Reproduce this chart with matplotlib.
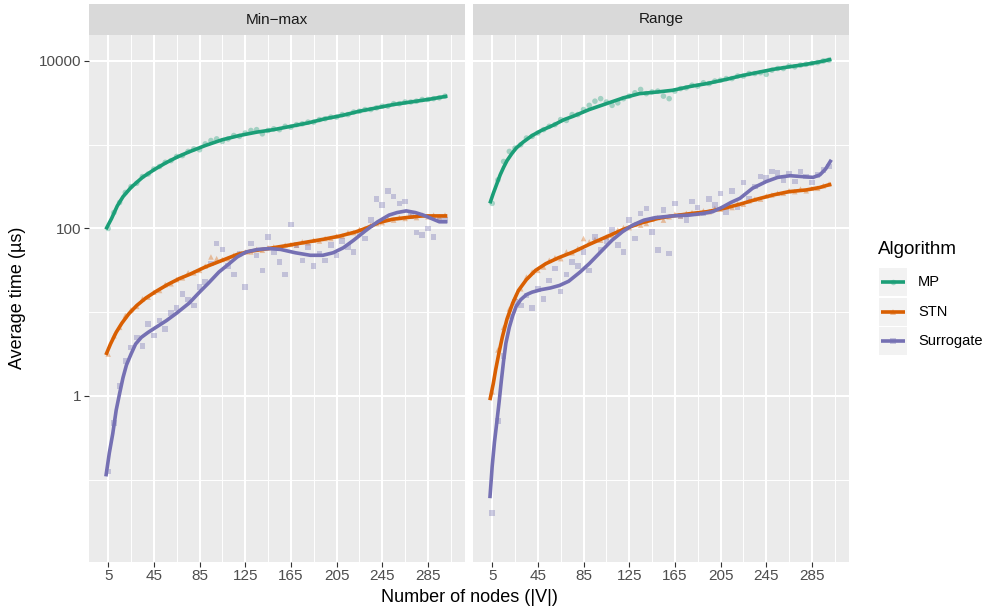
import numpy as np
import matplotlib
matplotlib.use('Agg')
import matplotlib.pyplot as plt
from matplotlib.ticker import FixedLocator, NullFormatter, FixedFormatter
from matplotlib.patches import Rectangle
from matplotlib.lines import Line2D

plt.rcParams['font.family'] = ['Liberation Sans', 'DejaVu Sans']

# ---------------- data ----------------
facets = ['Min\u2212max', 'Range']
algorithms = ['MP', 'STN', 'Surrogate']
colors = {'MP': '#1B9E77', 'STN': '#D95F02', 'Surrogate': '#7570B3'}
markers = {'MP': 'o', 'STN': '^', 'Surrogate': 's'}

nodes = list(range(5, 301, 5))
x_ticks = [5, 45, 85, 125, 165, 205, 245, 285]
x_minor = [25, 65, 105, 145, 185, 225, 265, 305]
y_ticks = [1, 100, 10000]
y_tick_labels = ['1', '100', '10000']
y_minor = [0.1, 10, 1000]

# observed average times, stored as log10(µs), one value per node count in `nodes`
minmax_mp_log10 = [2.00, 2.19, 2.31, 2.43, 2.50, 2.54, 2.62, 2.65, 2.71, 2.74,
                   2.79, 2.81, 2.86, 2.87, 2.92, 2.95, 2.94, 3.01, 3.05, 3.07,
                   3.04, 3.07, 3.11, 3.10, 3.14, 3.17, 3.18, 3.13, 3.17, 3.19,
                   3.18, 3.22, 3.21, 3.24, 3.25, 3.27, 3.27, 3.30, 3.31, 3.33,
                   3.33, 3.36, 3.36, 3.39, 3.40, 3.42, 3.42, 3.44, 3.46, 3.46,
                   3.49, 3.49, 3.51, 3.51, 3.52, 3.54, 3.54, 3.55, 3.56, 3.58]
minmax_stn_log10 = [0.50, 0.72, 0.82, 0.96, 1.03, 1.07, 1.16, 1.18, 1.24, 1.26,
                    1.33, 1.34, 1.39, 1.41, 1.47, 1.47, 1.50, 1.55, 1.66, 1.64,
                    1.63, 1.64, 1.68, 1.70, 1.72, 1.72, 1.75, 1.74, 1.77, 1.78,
                    1.77, 1.80, 1.81, 1.80, 1.84, 1.83, 1.86, 1.85, 1.88, 1.88,
                    1.91, 1.91, 1.95, 1.95, 1.99, 2.00, 2.04, 2.06, 2.07, 2.11,
                    2.10, 2.13, 2.12, 2.15, 2.13, 2.16, 2.14, 2.16, 2.14, 2.16]
minmax_sur_log10 = [-0.90, -0.32, 0.12, 0.42, 0.58, 0.70, 0.60, 0.86, 0.72, 0.90,
                    0.80, 0.99, 1.05, 1.22, 1.15, 1.08, 1.30, 1.36, 1.58, 1.82,
                    1.75, 1.55, 1.45, 1.70, 1.30, 1.82, 1.68, 1.50, 1.90, 1.72,
                    1.60, 1.45, 2.05, 1.80, 1.62, 1.78, 1.55, 1.70, 1.62, 1.80,
                    1.68, 1.85, 1.78, 1.72, 1.95, 1.88, 2.10, 2.35, 2.28, 2.45,
                    2.38, 2.30, 2.32, 2.15, 1.95, 1.92, 2.00, 1.90, 2.12, 2.10]
range_mp_log10 = [2.30, 2.58, 2.80, 2.92, 2.96, 3.00, 3.08, 3.10, 3.14, 3.18,
                  3.22, 3.24, 3.30, 3.29, 3.36, 3.36, 3.42, 3.47, 3.52, 3.55,
                  3.51, 3.47, 3.50, 3.55, 3.58, 3.62, 3.66, 3.61, 3.63, 3.64,
                  3.58, 3.55, 3.64, 3.67, 3.68, 3.71, 3.70, 3.74, 3.73, 3.76,
                  3.77, 3.79, 3.79, 3.82, 3.82, 3.85, 3.85, 3.86, 3.84, 3.89,
                  3.91, 3.91, 3.94, 3.93, 3.95, 3.96, 3.97, 3.98, 4.00, 4.01]
range_stn_log10 = [0.05, 0.55, 0.82, 1.04, 1.18, 1.28, 1.42, 1.48, 1.50, 1.54,
                   1.62, 1.65, 1.64, 1.72, 1.71, 1.76, 1.88, 1.84, 1.87, 1.86,
                   1.90, 1.92, 1.98, 2.01, 2.01, 2.05, 2.04, 2.06, 2.11, 2.13,
                   2.10, 2.14, 2.17, 2.15, 2.18, 2.19, 2.18, 2.21, 2.20, 2.24,
                   2.23, 2.26, 2.25, 2.30, 2.29, 2.33, 2.35, 2.35, 2.39, 2.40,
                   2.42, 2.42, 2.45, 2.44, 2.47, 2.45, 2.48, 2.48, 2.51, 2.53]
range_sur_log10 = [-1.40, -0.30, 0.48, 0.95, 1.12, 1.08, 1.20, 1.05, 1.28, 1.16,
                   1.38, 1.52, 1.25, 1.45, 1.60, 1.55, 1.72, 1.50, 1.90, 1.75,
                   1.85, 1.98, 1.80, 1.72, 2.10, 1.88, 2.18, 2.24, 1.96, 1.74,
                   2.22, 1.70, 2.30, 2.15, 2.10, 2.32, 2.25, 2.18, 2.35, 2.28,
                   2.42, 2.20, 2.45, 2.25, 2.55, 2.35, 2.50, 2.62, 2.60, 2.68,
                   2.66, 2.58, 2.65, 2.56, 2.68, 2.62, 2.55, 2.64, 2.70, 2.74]

# smoothed trend lines (log10 µs)
minmax_mp_fit_x = [3, 8, 13, 18, 25, 35, 45, 55, 65, 75, 90, 105, 120, 135, 150, 165,
                   180, 195, 210, 225, 240, 255, 270, 285, 302]
minmax_mp_fit = [1.99, 2.12, 2.27, 2.38, 2.49, 2.61, 2.70, 2.78, 2.85, 2.91, 2.99, 3.06,
                 3.11, 3.15, 3.18, 3.22, 3.26, 3.31, 3.35, 3.40, 3.44, 3.48, 3.51, 3.54, 3.58]
minmax_stn_fit_x = [3, 7, 12, 17, 23, 30, 38, 47, 57, 67, 76, 90, 105, 118, 130, 145,
                    163, 180, 193, 208, 222, 232, 242, 254, 266, 280, 302]
minmax_stn_fit = [0.49, 0.62, 0.76, 0.87, 0.98, 1.08, 1.17, 1.25, 1.33, 1.40, 1.45, 1.54,
                  1.62, 1.69, 1.73, 1.76, 1.80, 1.84, 1.87, 1.91, 1.96, 2.01, 2.07, 2.11,
                  2.13, 2.15, 2.15]
minmax_sur_fit_x = [3, 6, 9, 12, 15, 18, 21, 25, 29, 34, 40, 48, 56, 65, 76, 85, 93, 102,
                    111, 118, 126, 136, 146, 156, 169, 182, 193, 202, 211, 220, 231, 241,
                    251, 258, 266, 274, 281, 288, 295, 302]
minmax_sur_fit = [-0.96, -0.68, -0.45, -0.17, 0.03, 0.22, 0.37, 0.50, 0.62, 0.70, 0.76,
                  0.83, 0.90, 0.99, 1.11, 1.24, 1.35, 1.48, 1.58, 1.66, 1.72, 1.75, 1.76,
                  1.75, 1.71, 1.68, 1.68, 1.71, 1.77, 1.86, 1.98, 2.08, 2.16, 2.19, 2.21,
                  2.19, 2.16, 2.12, 2.08, 2.08]
range_mp_fit_x = [3, 6, 9, 12, 15, 18, 22, 26, 32, 40, 48, 58, 68, 76, 90, 105, 120, 134,
                  150, 163, 180, 193, 210, 222, 240, 251, 265, 280, 292, 302]
range_mp_fit = [2.30, 2.42, 2.53, 2.64, 2.73, 2.81, 2.89, 2.96, 3.03, 3.11, 3.17, 3.23,
                3.30, 3.34, 3.42, 3.49, 3.56, 3.61, 3.63, 3.65, 3.70, 3.73, 3.78, 3.82,
                3.87, 3.90, 3.93, 3.96, 3.99, 4.02]
range_stn_fit_x = [3, 6, 8, 11, 14, 18, 23, 28, 35, 43, 52, 63, 76, 90, 105, 120, 134,
                   150, 163, 180, 193, 208, 222, 237, 251, 265, 280, 292, 302]
range_stn_fit = [-0.05, 0.15, 0.31, 0.52, 0.71, 0.92, 1.11, 1.26, 1.39, 1.50, 1.58, 1.65,
                 1.72, 1.81, 1.90, 1.99, 2.06, 2.12, 2.15, 2.18, 2.20, 2.24, 2.29, 2.35,
                 2.40, 2.44, 2.46, 2.49, 2.53]
range_sur_fit_x = [3, 5, 7, 9, 11, 13, 15, 17, 20, 23, 26, 30, 35, 40, 48, 56, 64, 72, 82,
                   90, 100, 110, 119, 128, 138, 148, 163, 178, 190, 198, 206, 214, 222,
                   233, 245, 255, 266, 276, 286, 292, 297, 302]
range_sur_fit = [-1.22, -0.84, -0.55, -0.32, -0.08, 0.18, 0.42, 0.63, 0.82, 0.96, 1.07,
                 1.15, 1.21, 1.24, 1.27, 1.29, 1.32, 1.37, 1.48, 1.58, 1.72, 1.86, 1.96,
                 2.04, 2.10, 2.13, 2.15, 2.16, 2.18, 2.20, 2.25, 2.31, 2.36, 2.48, 2.56,
                 2.61, 2.63, 2.62, 2.61, 2.64, 2.71, 2.82]

points = {
    facets[0]: {'MP': minmax_mp_log10, 'STN': minmax_stn_log10, 'Surrogate': minmax_sur_log10},
    facets[1]: {'MP': range_mp_log10, 'STN': range_stn_log10, 'Surrogate': range_sur_log10},
}
fits = {
    facets[0]: {'MP': (minmax_mp_fit_x, minmax_mp_fit),
                'STN': (minmax_stn_fit_x, minmax_stn_fit),
                'Surrogate': (minmax_sur_fit_x, minmax_sur_fit)},
    facets[1]: {'MP': (range_mp_fit_x, range_mp_fit),
                'STN': (range_stn_fit_x, range_stn_fit),
                'Surrogate': (range_sur_fit_x, range_sur_fit)},
}

# ---------------- figure ----------------
W, H = 988, 612
fig = plt.figure(figsize=(W / 100, H / 100), dpi=100)
fig.patch.set_facecolor('white')

panel_left = [89, 473]
panel_w = 376
panel_top, panel_bot = 35, 562
strip_top = 4

ylo, yhi = 10 ** -1.982, 10 ** 4.310
xlo, xhi = -11.8, 317.5

for i, facet in enumerate(facets):
    ax = fig.add_axes([panel_left[i] / W, 1 - panel_bot / H, panel_w / W,
                       (panel_bot - panel_top) / H])
    ax.set_facecolor('#EBEBEB')
    for s in ax.spines.values():
        s.set_visible(False)
    ax.set_yscale('log')
    ax.set_xlim(xlo, xhi)
    ax.set_ylim(ylo, yhi)
    ax.xaxis.set_major_locator(FixedLocator(x_ticks))
    ax.xaxis.set_minor_locator(FixedLocator(x_minor))
    ax.yaxis.set_major_locator(FixedLocator(y_ticks))
    ax.yaxis.set_minor_locator(FixedLocator(y_minor))
    ax.yaxis.set_minor_formatter(NullFormatter())
    ax.xaxis.set_minor_formatter(NullFormatter())
    ax.set_xticklabels([str(v) for v in x_ticks])
    ax.grid(True, which='major', color='white', lw=1.45)
    ax.grid(True, which='minor', color='white', lw=0.7)
    ax.set_axisbelow(True)
    ax.tick_params(which='minor', length=0)
    ax.tick_params(axis='x', which='major', length=3.6, width=0.8, color='#333333',
                   labelsize=11, labelcolor='#4D4D4D', pad=1.8)
    if i == 0:
        ax.yaxis.set_major_formatter(FixedFormatter(y_tick_labels))
        ax.tick_params(axis='y', which='major', length=3.6, width=0.8, color='#333333',
                       labelsize=11, labelcolor='#4D4D4D', pad=1.8)
    else:
        ax.tick_params(axis='y', which='major', length=0, labelleft=False)

    for alg in algorithms:
        vals = 10 ** np.array(points[facet][alg])
        ax.scatter(nodes, vals, marker=markers[alg], s=16, color=colors[alg],
                   alpha=0.35, edgecolors='none', zorder=2)
    for alg in algorithms:
        fx, fy = fits[facet][alg]
        ax.plot(fx, 10 ** np.array(fy), color=colors[alg], lw=2.6,
                solid_capstyle='butt', solid_joinstyle='round', zorder=3)

    sax = fig.add_axes([panel_left[i] / W, 1 - panel_top / H, panel_w / W,
                        (panel_top - strip_top) / H])
    sax.set_facecolor('#D9D9D9')
    sax.set_xticks([])
    sax.set_yticks([])
    for s in sax.spines.values():
        s.set_visible(False)
    sax.text(0.5, 0.5, facet, ha='center', va='center', fontsize=11,
             color='#1A1A1A', transform=sax.transAxes)

fig.text(469 / W, 1 - 597 / H, 'Number of nodes (|V|)', ha='center', va='center',
         fontsize=13, color='black')
fig.text(18 / W, 1 - 298 / H, 'Average time (\u00b5s)', ha='center', va='center',
         rotation=90, fontsize=13, color='black')

# legend
lax = fig.add_axes([0, 0, 1, 1])
lax.set_xlim(0, W)
lax.set_ylim(H, 0)
lax.axis('off')
lax.patch.set_alpha(0)
lax.text(878, 249, 'Algorithm', ha='left', va='center', fontsize=13.5, color='black')
row_y = [282, 311.5, 341]
for alg, yc in zip(algorithms, row_y):
    lax.add_patch(Rectangle((879, yc - 14), 28, 28, facecolor='#F2F2F2', edgecolor='none'))
    lax.add_line(Line2D([881, 905], [yc, yc], color=colors[alg], lw=2.6,
                        solid_capstyle='butt'))
    lax.plot([893], [yc], marker=markers[alg], ms=4, color=colors[alg], alpha=0.35,
             markeredgewidth=0)
    lax.text(918, yc, alg, ha='left', va='center', fontsize=10.5, color='black')

fig.savefig('out.png', dpi=100)
